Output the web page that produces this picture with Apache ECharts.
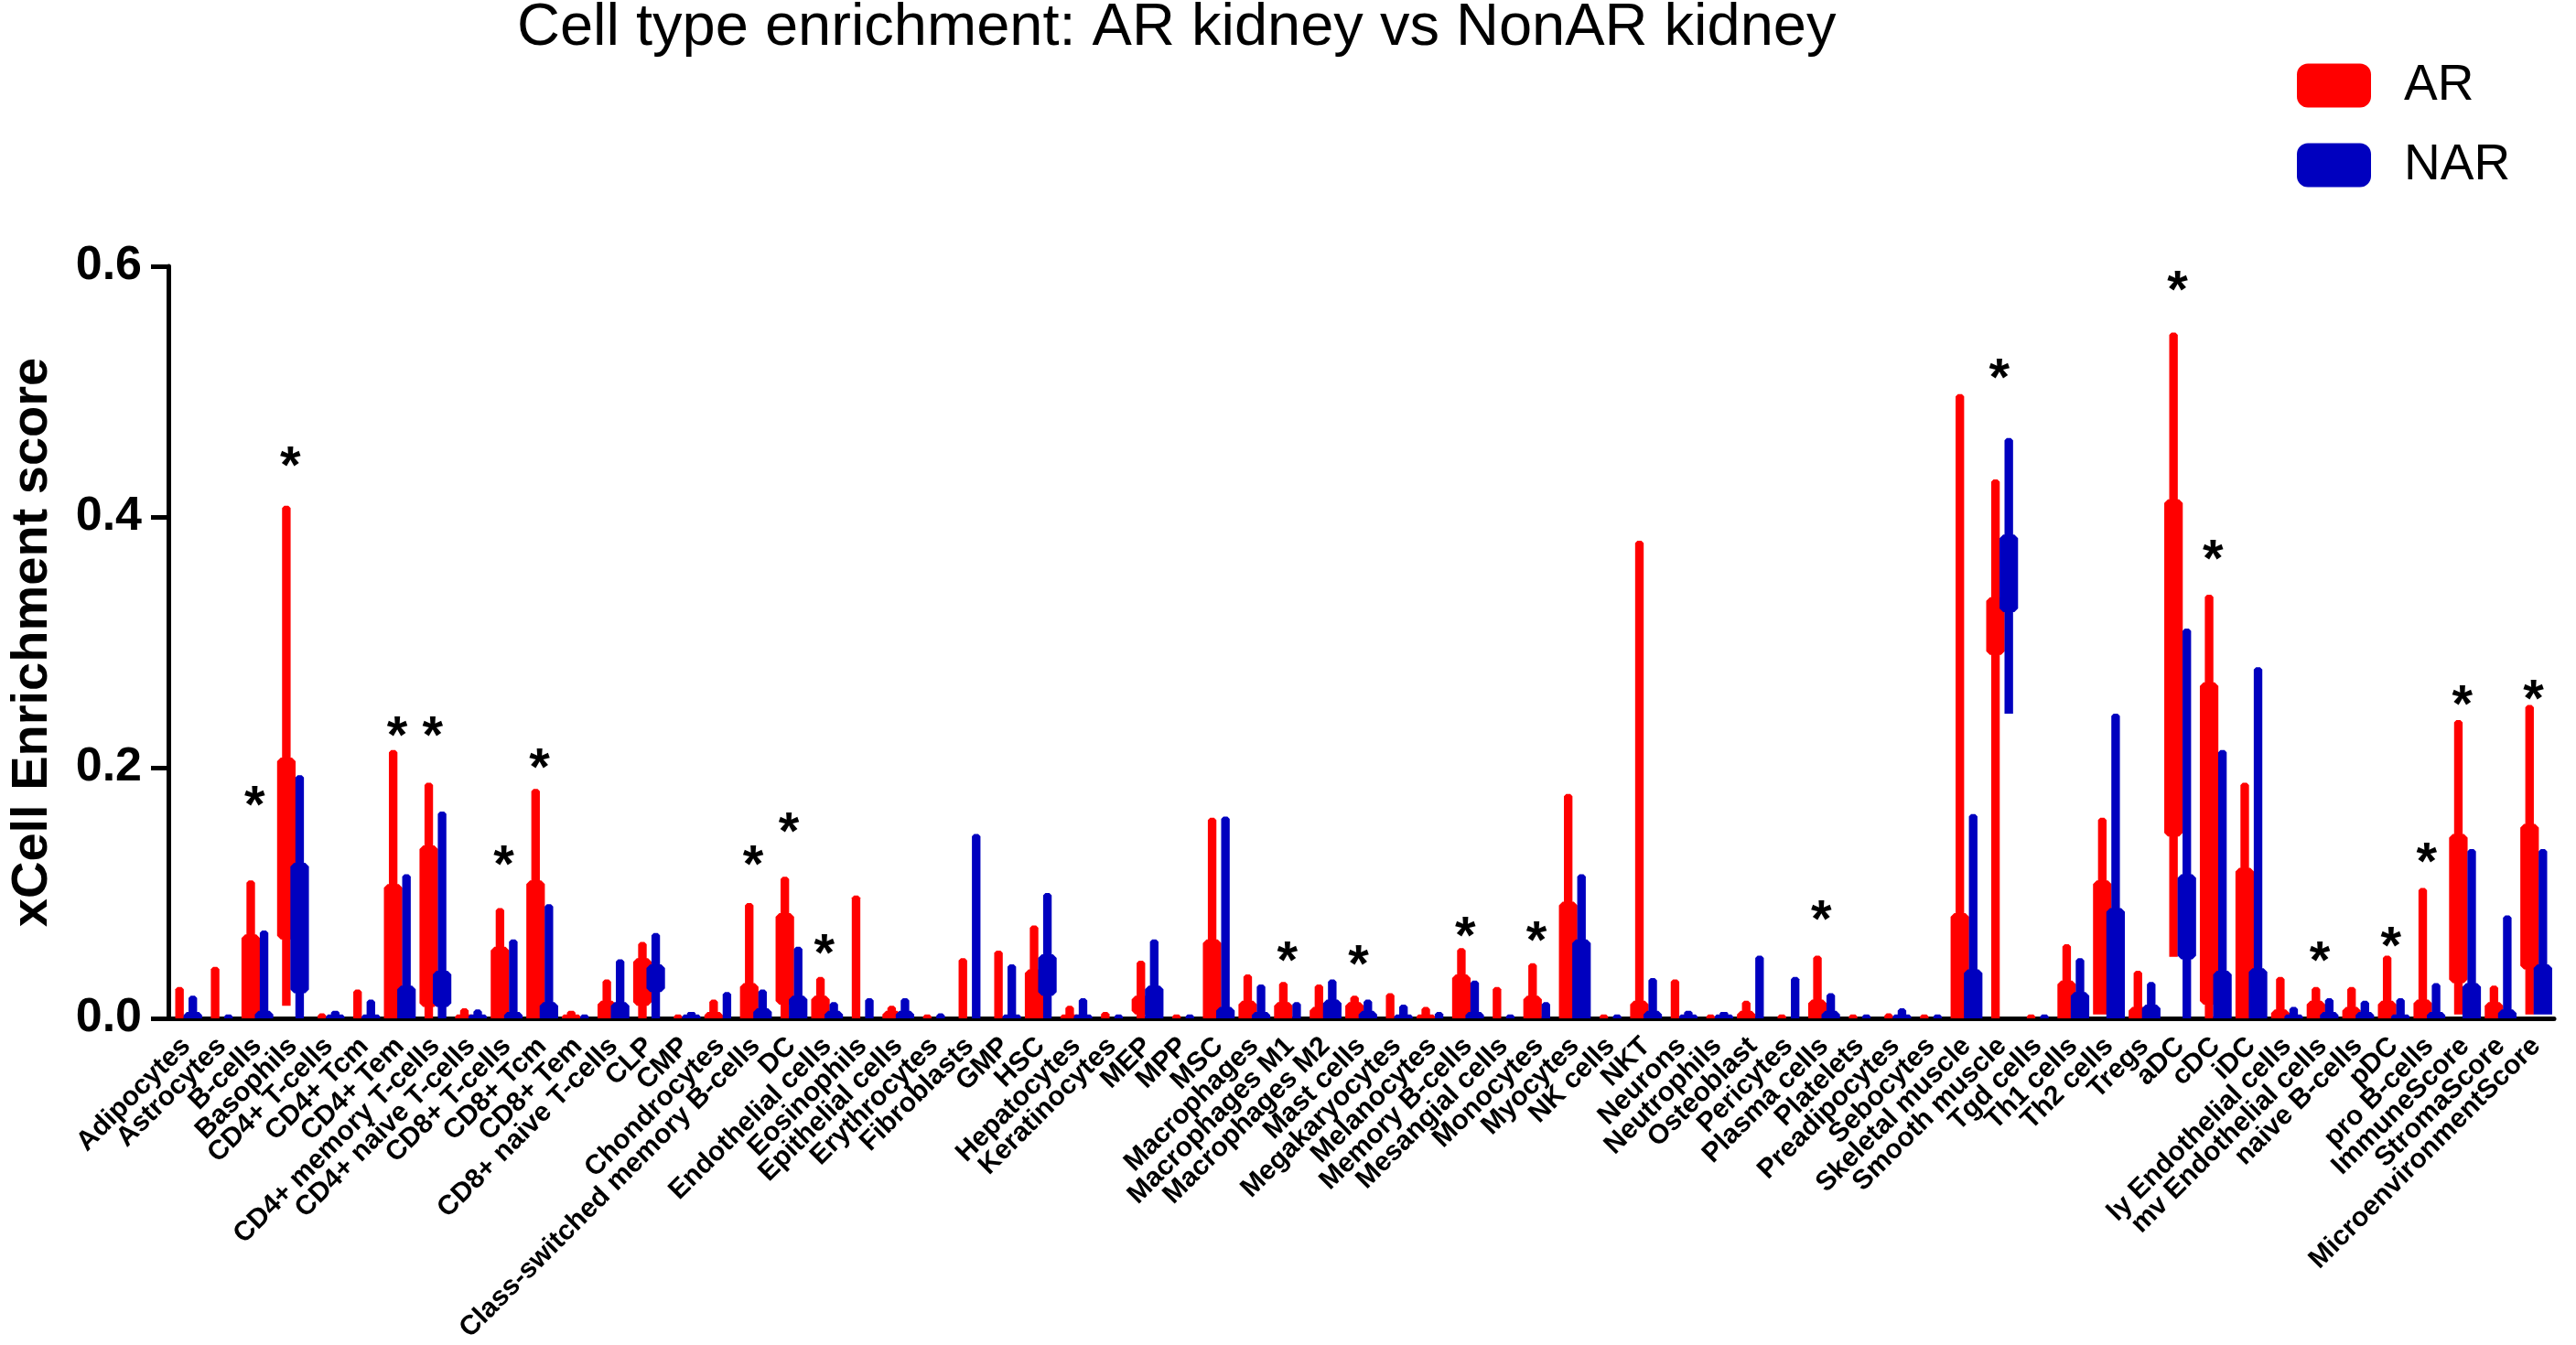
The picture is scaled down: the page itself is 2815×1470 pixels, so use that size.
<!DOCTYPE html>
<html lang="en">
<head>
<meta charset="UTF-8">
<title>Cell type enrichment</title>
<style>
    html, body { margin: 0; padding: 0; background: #ffffff; }
    #main { width: 2815px; height: 1470px; }
</style>
</head>
<body>
<div id="main"></div>
<script src="https://cdn.jsdelivr.net/npm/echarts@6/dist/echarts.min.js"></script>
<script>
// xCell cell types, in plot order
var cellTypes = ['Adipocytes', 'Astrocytes', 'B-cells', 'Basophils', 'CD4+ T-cells', 'CD4+ Tcm', 'CD4+ Tem',
    'CD4+ memory T-cells', 'CD4+ naive T-cells', 'CD8+ T-cells', 'CD8+ Tcm', 'CD8+ Tem', 'CD8+ naive T-cells',
    'CLP', 'CMP', 'Chondrocytes', 'Class-switched memory B-cells', 'DC', 'Endothelial cells', 'Eosinophils',
    'Epithelial cells', 'Erythrocytes', 'Fibroblasts', 'GMP', 'HSC', 'Hepatocytes', 'Keratinocytes', 'MEP',
    'MPP', 'MSC', 'Macrophages', 'Macrophages M1', 'Macrophages M2', 'Mast cells', 'Megakaryocytes',
    'Melanocytes', 'Memory B-cells', 'Mesangial cells', 'Monocytes', 'Myocytes', 'NK cells', 'NKT', 'Neurons',
    'Neutrophils', 'Osteoblast', 'Pericytes', 'Plasma cells', 'Platelets', 'Preadipocytes', 'Sebocytes',
    'Skeletal muscle', 'Smooth muscle', 'Tgd cells', 'Th1 cells', 'Th2 cells', 'Tregs', 'aDC', 'cDC', 'iDC',
    'ly Endothelial cells', 'mv Endothelial cells', 'naive B-cells', 'pDC', 'pro B-cells', 'ImmuneScore',
    'StromaScore', 'MicroenvironmentScore'];

// AR kidney: min / lower body / upper body / max of each violin
var arMin = [0, 0, 0, 0.01, 0, 0, 0, 0, 0, 0,
    0, 0, 0, 0, 0, 0, 0, 0, 0, 0,
    0, 0, 0, 0, 0, 0, 0, 0, 0, 0,
    0, 0, 0, 0, 0, 0, 0, 0, 0, 0,
    0, 0, 0, 0, 0, 0, 0, 0, 0, 0,
    0, 0, 0, 0, 0.003, 0, 0.049, 0, 0, 0,
    0, 0, 0, 0, 0.003, 0, 0.003];
var arQ1 = [0, 0, 0, 0.063, 0, 0, 0, 0.009, 0, 0,
    0, 0, 0, 0.01, 0, 0, 0, 0.011, 0, 0,
    0, 0, 0, 0, 0, 0, 0, 0.003, 0, 0,
    0, 0, 0, 0, 0, 0, 0, 0, 0, 0,
    0, 0, 0, 0, 0, 0, 0, 0, 0, 0,
    0, 0.29, 0, 0, 0.003, 0, 0.145, 0.011, 0, 0,
    0, 0, 0, 0, 0.028, 0, 0.039];
var arQ3 = [0, 0, 0.067, 0.208, 0, 0, 0.107, 0.138, 0.003, 0.057,
    0.11, 0.003, 0.014, 0.048, 0, 0.005, 0.028, 0.084, 0.018, 0,
    0.006, 0, 0, 0, 0.039, 0.003, 0, 0.018, 0, 0.063,
    0.014, 0.013, 0.009, 0.013, 0, 0.003, 0.035, 0, 0.018, 0.093,
    0, 0.014, 0, 0, 0.006, 0, 0.015, 0, 0, 0,
    0.084, 0.336, 0, 0.03, 0.11, 0.009, 0.414, 0.268, 0.12, 0.007,
    0.014, 0.009, 0.014, 0.015, 0.147, 0.013, 0.155];
var arMax = [0.025, 0.041, 0.11, 0.409, 0.004, 0.023, 0.214, 0.188, 0.008, 0.088,
    0.183, 0.006, 0.031, 0.061, 0.003, 0.015, 0.092, 0.113, 0.033, 0.098,
    0.01, 0.003, 0.048, 0.054, 0.074, 0.01, 0.005, 0.046, 0.003, 0.16,
    0.035, 0.029, 0.027, 0.018, 0.02, 0.009, 0.056, 0.025, 0.044, 0.179,
    0.003, 0.381, 0.031, 0.003, 0.014, 0.003, 0.05, 0.003, 0.004, 0.003,
    0.498, 0.43, 0.003, 0.059, 0.16, 0.038, 0.547, 0.338, 0.188, 0.033,
    0.025, 0.025, 0.05, 0.104, 0.238, 0.026, 0.25];

// NonAR kidney
var narMin = [0, 0, 0, 0, 0, 0, 0, 0, 0, 0,
    0, 0, 0, 0, 0, 0, 0, 0, 0, 0,
    0, 0, 0, 0, 0, 0, 0, 0, 0, 0,
    0, 0, 0, 0, 0, 0, 0, 0, 0, 0,
    0, 0, 0, 0, 0, 0, 0, 0, 0, 0,
    0, 0.243, 0, 0, 0, 0, 0, 0, 0, 0,
    0, 0, 0, 0, 0, 0, 0.003];
var narQ1 = [0, 0, 0, 0.02, 0, 0, 0, 0.009, 0, 0,
    0, 0, 0, 0.021, 0, 0, 0, 0, 0, 0,
    0, 0, 0, 0, 0.018, 0, 0, 0, 0, 0,
    0, 0, 0, 0, 0, 0, 0, 0, 0, 0,
    0, 0, 0, 0, 0, 0, 0, 0, 0, 0,
    0, 0.324, 0, 0, 0, 0, 0.047, 0, 0, 0,
    0, 0, 0, 0, 0, 0, 0.003];
var narQ3 = [0.005, 0, 0.006, 0.124, 0.003, 0.003, 0.026, 0.038, 0.003, 0.005,
    0.013, 0, 0.013, 0.043, 0.003, 0, 0.008, 0.018, 0.006, 0,
    0.006, 0, 0, 0.003, 0.051, 0.003, 0, 0.026, 0, 0.009,
    0.005, 0, 0.015, 0.006, 0.003, 0, 0.005, 0, 0, 0.063,
    0, 0.006, 0.003, 0.003, 0, 0, 0.006, 0, 0.003, 0,
    0.039, 0.386, 0, 0.021, 0.088, 0.011, 0.115, 0.038, 0.04, 0.003,
    0.005, 0.005, 0.003, 0.005, 0.028, 0.007, 0.043];
var narMax = [0.018, 0.003, 0.07, 0.194, 0.006, 0.015, 0.115, 0.165, 0.007, 0.063,
    0.091, 0.003, 0.047, 0.068, 0.005, 0.021, 0.023, 0.057, 0.013, 0.016,
    0.016, 0.004, 0.147, 0.043, 0.1, 0.016, 0.003, 0.063, 0.003, 0.161,
    0.027, 0.013, 0.031, 0.015, 0.011, 0.005, 0.03, 0.003, 0.013, 0.115,
    0.003, 0.032, 0.006, 0.005, 0.05, 0.033, 0.02, 0.003, 0.008, 0.003,
    0.163, 0.463, 0.003, 0.048, 0.243, 0.029, 0.311, 0.214, 0.28, 0.009,
    0.016, 0.014, 0.016, 0.028, 0.135, 0.082, 0.135];

// significance stars: which cell types, and at what score height
var sigCells = ['B-cells', 'Basophils', 'CD4+ Tem', 'CD4+ memory T-cells', 'CD8+ T-cells', 'CD8+ Tcm',
    'Class-switched memory B-cells', 'DC', 'Endothelial cells', 'Macrophages M1', 'Mast cells',
    'Memory B-cells', 'Monocytes', 'Plasma cells', 'Smooth muscle', 'aDC', 'cDC', 'mv Endothelial cells',
    'pDC', 'pro B-cells', 'ImmuneScore', 'MicroenvironmentScore'];
var sigLevel = [0.177, 0.448, 0.233, 0.233, 0.13, 0.207, 0.13, 0.156, 0.059, 0.053, 0.05,
    0.073, 0.069, 0.086, 0.518, 0.588, 0.374, 0.053, 0.065, 0.132, 0.258, 0.262];

var yTicks = [0, 0.2, 0.4, 0.6];

var FONT = '"Liberation Sans", Arial, sans-serif';

function violinData(mins, q1s, q3s, maxs) {
    return cellTypes.map(function (c, i) {
        return [i, mins[i], q1s[i], q3s[i], maxs[i]];
    });
}

// narrow violin: thin stem min..max, wider body q1..q3
function makeViolin(side) {
    return function (params, api) {
        var i = api.value(0);
        var band = api.size([1, 0])[0];
        var cx = api.coord([i, 0])[0] + side * band * 0.187;
        var sw = band * 0.12, ww = band * 0.26;
        var pMin = api.coord([i, api.value(1)])[1];
        var pQ1 = api.coord([i, api.value(2)])[1];
        var pQ3 = api.coord([i, api.value(3)])[1];
        var pMax = api.coord([i, api.value(4)])[1];
        var pts;
        if (pQ1 - pQ3 > 0.5) {
            var b = Math.min(4, (pQ1 - pQ3) / 2);
            var bb = (pQ1 < pMin - 0.5) ? b : 0;
            var c = Math.min(2.5, Math.max(0, (pQ3 - pMax) / 2));
            pts = [
                [cx - sw, pMin], [cx - sw, pQ1], [cx - ww + bb, pQ1], [cx - ww, pQ1 - bb],
                [cx - ww, pQ3 + b], [cx - ww + b, pQ3], [cx - sw, pQ3],
                [cx - sw, pMax + c], [cx - sw + c, pMax], [cx + sw - c, pMax], [cx + sw, pMax + c],
                [cx + sw, pQ3], [cx + ww - b, pQ3], [cx + ww, pQ3 + b],
                [cx + ww, pQ1 - bb], [cx + ww - bb, pQ1], [cx + sw, pQ1], [cx + sw, pMin]
            ];
        } else {
            var c2 = Math.min(2.5, Math.max(0, (pMin - pMax) / 2));
            pts = [
                [cx - sw, pMin], [cx - sw, pMax + c2], [cx - sw + c2, pMax],
                [cx + sw - c2, pMax], [cx + sw, pMax + c2], [cx + sw, pMin]
            ];
        }
        return {
            type: 'polygon',
            shape: { points: pts },
            style: { fill: api.visual('color') }
        };
    };
}

var myChart = echarts.init(document.getElementById('main'));

var option = {
    backgroundColor: '#ffffff',
    animation: false,
    title: {
        text: 'Cell type enrichment: AR kidney vs NonAR kidney',
        left: 560,
        top: -6,
        textStyle: { fontFamily: FONT, fontSize: 65, fontWeight: 'normal', color: '#000' }
    },
    legend: {
        data: ['AR', 'NAR'],
        orient: 'vertical',
        left: 2505,
        top: 61,
        itemWidth: 81,
        itemHeight: 48,
        itemGap: 32,
        icon: 'roundRect',
        selectedMode: false,
        textStyle: { fontFamily: FONT, fontSize: 55, color: '#000', padding: [0, 0, 0, 31] }
    },
    grid: { left: 172, right: 24, top: 291, bottom: 352 },
    xAxis: {
        type: 'category',
        data: cellTypes,
        boundaryGap: true,
        axisLine: { lineStyle: { color: '#000', width: 5 } },
        axisTick: { alignWithLabel: true, interval: 0, length: 20, lineStyle: { color: '#000', width: 6 } },
        axisLabel: {
            interval: 0, rotate: 45, margin: 26,
            fontFamily: FONT, fontSize: 30, fontWeight: 'bold', color: '#000'
        },
        splitLine: { show: false }
    },
    yAxis: {
        type: 'value',
        min: yTicks[0],
        max: yTicks[yTicks.length - 1],
        interval: 0.2,
        name: 'xCell Enrichment score',
        nameLocation: 'middle',
        nameGap: 120,
        nameTextStyle: { fontFamily: FONT, fontSize: 56, fontWeight: 'bold', color: '#000' },
        axisLine: { show: true, lineStyle: { color: '#000', width: 5 } },
        axisTick: { show: true, length: 19, lineStyle: { color: '#000', width: 5 } },
        axisLabel: {
            margin: 29, fontFamily: FONT, fontSize: 52, fontWeight: 'bold', color: '#000',
            formatter: function (v) { return v.toFixed(1); }
        },
        splitLine: { show: false }
    },
    series: [
        {
            name: 'AR',
            type: 'custom',
            itemStyle: { color: '#ff0000' },
            encode: { x: 0, y: [1, 2, 3, 4] },
            renderItem: makeViolin(-1),
            data: violinData(arMin, arQ1, arQ3, arMax),
            z: 2
        },
        {
            name: 'NAR',
            type: 'custom',
            itemStyle: { color: '#0000bf' },
            encode: { x: 0, y: [1, 2, 3, 4] },
            renderItem: makeViolin(1),
            data: violinData(narMin, narQ1, narQ3, narMax),
            z: 3
        },
        {
            name: 'sig',
            type: 'custom',
            encode: { x: 0, y: 1 },
            renderItem: function (params, api) {
                var p = api.coord([api.value(0), api.value(1)]);
                return {
                    type: 'text',
                    x: p[0] - 3,
                    y: p[1] + 13,
                    style: {
                        text: '*', fontFamily: FONT, fontSize: 58, fontWeight: 'bold',
                        fill: '#000', align: 'center', verticalAlign: 'middle'
                    }
                };
            },
            data: sigCells.map(function (c, k) { return [cellTypes.indexOf(c), sigLevel[k]]; }),
            z: 4
        }
    ]
};
myChart.setOption(option);
</script>
</body>
</html>
